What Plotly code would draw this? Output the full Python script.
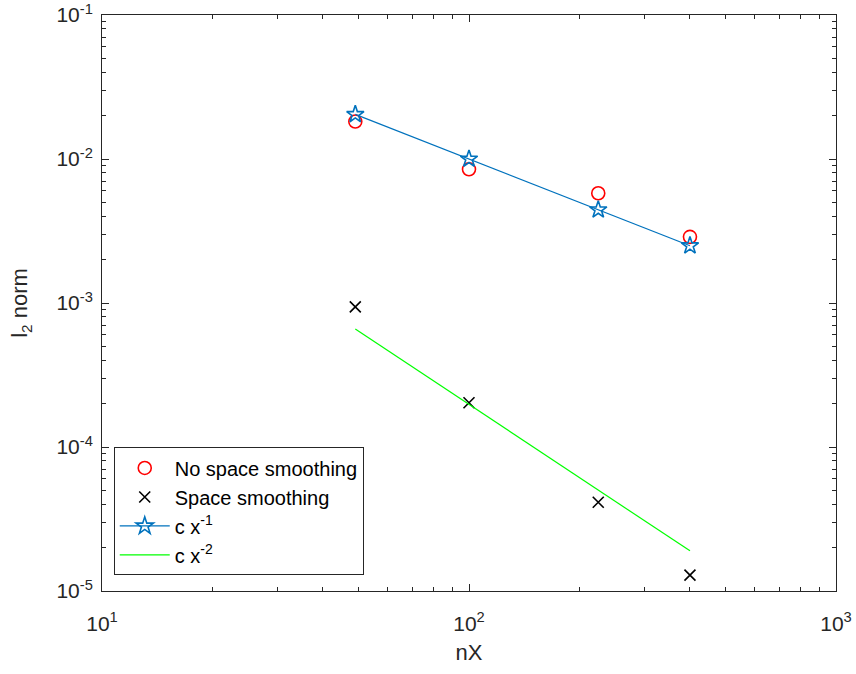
import plotly.graph_objects as go

# grid resolution
nX = [49, 100, 225, 400]

# l2 error without / with spatial smoothing
err_no_smooth = [0.0182, 0.00848, 0.00578, 0.00288]
err_smooth = [9.4e-4, 2.03e-4, 4.13e-5, 1.29e-5]

# reference slopes
ref_order1 = [0.0204, 0.0100, 0.00444, 0.00250]
ref_order2 = [6.6e-4, 1.97e-4, 5.0e-5, 1.9e-5]

x_major = [10, 100, 1000]
x_major_text = ["10<sup>1</sup>", "10<sup>2</sup>", "10<sup>3</sup>"]
y_major = [1e-5, 1e-4, 1e-3, 1e-2, 1e-1]
y_major_text = ["10<sup>-5</sup>", "10<sup>-4</sup>", "10<sup>-3</sup>",
                "10<sup>-2</sup>", "10<sup>-1</sup>"]

x_minor = [m * d for d in (10, 100) for m in range(2, 10)]
y_minor = [m * d for d in (1e-5, 1e-4, 1e-3, 1e-2) for m in range(2, 10)]

FONT = "Liberation Sans, Arial, Helvetica, sans-serif"
AX = "#262626"

fig = go.Figure()
fig.add_trace(go.Scatter(
    x=nX, y=err_no_smooth, mode="markers", name="No space smoothing",
    marker=dict(symbol="circle-open", size=13, color="#FF0000",
                line=dict(width=1.6, color="#FF0000")),
))
fig.add_trace(go.Scatter(
    x=nX, y=err_smooth, mode="markers", name="Space smoothing",
    marker=dict(symbol="x-thin-open", size=11, color="black",
                line=dict(width=1.6, color="black")),
))
fig.add_trace(go.Scatter(
    x=nX, y=ref_order1, mode="lines+markers", name="c x<sup>-1</sup>",
    line=dict(color="#0072BD", width=1.2),
    marker=dict(symbol="star-open", size=13, color="#0072BD",
                line=dict(width=1.6, color="#0072BD")),
))
fig.add_trace(go.Scatter(
    x=nX, y=ref_order2, mode="lines", name="c x<sup>-2</sup>",
    line=dict(color="#00FF00", width=1.2),
))

axis_common = dict(
    type="log", showgrid=False, zeroline=False, automargin=False,
    showline=True, linecolor=AX, linewidth=1, mirror="ticks",
    ticks="inside", ticklen=7, tickcolor=AX, tickwidth=1,
    tickmode="array",
    tickfont=dict(family=FONT, size=21, color=AX),
    title_font=dict(family=FONT, size=22, color=AX),
)

fig.update_xaxes(
    **axis_common,
    range=[1, 3],
    tickvals=x_major, ticktext=x_major_text,
    ticklabelstandoff=14,
    minor=dict(tickmode="array", tickvals=x_minor, ticks="inside",
               ticklen=4, tickcolor=AX, tickwidth=1),
    title_text="nX", title_standoff=10,
)
fig.update_yaxes(
    **axis_common,
    range=[-5, -1],
    tickvals=y_major, ticktext=y_major_text,
    ticklabelstandoff=4,
    minor=dict(tickmode="array", tickvals=y_minor, ticks="inside",
               ticklen=4, tickcolor=AX, tickwidth=1),
    title_text="l<sub>2</sub> norm", title_standoff=22,
)

fig.update_layout(
    width=856, height=674,
    margin=dict(l=102, r=20, t=15, b=83),
    paper_bgcolor="white", plot_bgcolor="white",
    font=dict(family=FONT, size=20, color="black"),
    showlegend=True,
    legend=dict(
        x=0.016, y=0.027, xanchor="left", yanchor="bottom",
        bgcolor="white", bordercolor=AX, borderwidth=1,
        font=dict(family=FONT, size=20, color="black"),
        tracegroupgap=0, itemwidth=50,
    ),
)

fig.write_html("out.html")
